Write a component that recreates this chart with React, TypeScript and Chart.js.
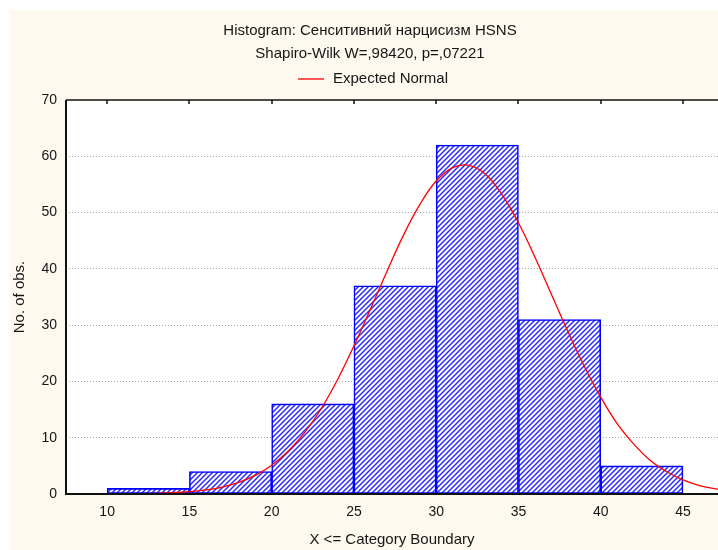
import React, { useEffect, useRef } from 'react';
import { Chart, registerables } from 'chart.js';

Chart.register(...registerables);

const TITLE = 'Histogram: Сенситивний нарцисизм HSNS';
const SUBTITLE = 'Shapiro-Wilk W=,98420, p=,07221';
const LEGEND_LABEL = 'Expected Normal';
const X_TITLE = 'X <= Category Boundary';
const Y_TITLE = 'No. of obs.';

const binStarts = [10, 15, 20, 25, 30, 35, 40];
const binWidth = 5;
const counts = [1, 4, 16, 37, 62, 31, 5];

const xTicks = [10, 15, 20, 25, 30, 35, 40, 45];
const yTicks = [0, 10, 20, 30, 40, 50, 60, 70];

const curveX = [8, 9, 10, 11, 12, 13, 14, 15, 16, 17, 18, 19, 20, 21, 22, 23, 24, 25, 26, 27, 28, 29, 30, 31, 32, 33, 34, 35, 36, 37, 38, 39, 40, 41, 42, 43, 44, 45, 46, 47, 48];
const curveY = [0.003, 0.006, 0.013, 0.03, 0.058, 0.12, 0.22, 0.41, 0.73, 1.24, 2.06, 3.3, 5.1, 7.6, 10.9, 15.1, 20.3, 26.3, 32.8, 39.5, 45.9, 51.4, 55.6, 58.0, 58.4, 56.8, 53.2, 48.2, 42.1, 35.5, 28.9, 22.7, 17.2, 12.5, 8.9, 6.0, 4.0, 2.5, 1.5, 0.9, 0.52];

const X_MIN = 7.5;
const X_MAX = 47.13;
const Y_MIN = 0;
const Y_MAX = 70;

const FONT = '"Liberation Sans", Arial, sans-serif';
const TEXT = '#161616';
const BLUE = '#0000ff';
const RED = '#ff0000';
const CREAM = '#fef9ee';

function makeHatch(ctx: CanvasRenderingContext2D): CanvasPattern | string {
  const s = 5;
  const c = document.createElement('canvas');
  c.width = s;
  c.height = s;
  const g = c.getContext('2d');
  if (!g) return '#8080ff';
  g.fillStyle = '#ffffff';
  g.fillRect(0, 0, s, s);
  g.strokeStyle = '#2a2aff';
  g.lineWidth = 1.5;
  g.beginPath();
  g.moveTo(0, s);
  g.lineTo(s, 0);
  g.moveTo(-1, 1);
  g.lineTo(1, -1);
  g.moveTo(s - 1, s + 1);
  g.lineTo(s + 1, s - 1);
  g.stroke();
  return ctx.createPattern(c, 'repeat') || '#8080ff';
}

const decorPlugin = {
  id: 'decor',
  beforeDraw(chart: any) {
    const { ctx, chartArea: a, width, height } = chart;
    ctx.save();
    ctx.fillStyle = '#ffffff';
    ctx.fillRect(0, 0, width, height);
    ctx.fillStyle = CREAM;
    ctx.fillRect(10, 10, width - 10, height - 10);
    ctx.fillStyle = '#ffffff';
    ctx.fillRect(a.left, a.top, a.right - a.left, a.bottom - a.top);

    const cx = 370;
    ctx.fillStyle = TEXT;
    ctx.font = `15px ${FONT}`;
    ctx.textAlign = 'center';
    ctx.textBaseline = 'alphabetic';
    ctx.fillText(TITLE, cx, 35);
    ctx.fillText(SUBTITLE, cx, 57.5);

    // legend
    ctx.textAlign = 'left';
    const tw = ctx.measureText(LEGEND_LABEL).width;
    const lineLen = 26;
    const gap = 9;
    const total = lineLen + gap + tw;
    const lx = cx + 3 - total / 2;
    ctx.strokeStyle = RED;
    ctx.lineWidth = 1.3;
    ctx.beginPath();
    ctx.moveTo(lx, 79);
    ctx.lineTo(lx + lineLen, 79);
    ctx.stroke();
    ctx.fillText(LEGEND_LABEL, lx + lineLen + gap, 83);
    ctx.restore();
  },
  afterDraw(chart: any) {
    const { ctx, chartArea: a, scales } = chart;
    ctx.save();
    ctx.strokeStyle = '#111111';
    ctx.lineWidth = 2;
    ctx.beginPath();
    ctx.moveTo(a.left, a.top);
    ctx.lineTo(a.left, a.bottom);
    ctx.lineTo(a.right, a.bottom);
    ctx.stroke();
    ctx.lineWidth = 1.5;
    ctx.beginPath();
    ctx.moveTo(a.left, a.top);
    ctx.lineTo(a.right, a.top);
    ctx.stroke();
    ctx.lineWidth = 1.5;
    ctx.beginPath();
    for (const v of xTicks) {
      const px = Math.round(scales.x.getPixelForValue(v));
      ctx.moveTo(px, a.top);
      ctx.lineTo(px, a.top + 4);
    }
    ctx.stroke();
    ctx.restore();
  },
};

export default function App() {
  const ref = useRef<HTMLCanvasElement | null>(null);

  useEffect(() => {
    const canvas = ref.current;
    if (!canvas) return;
    const ctx = canvas.getContext('2d');
    if (!ctx) return;
    const hatch = makeHatch(ctx);

    const barData = binStarts.map((s, i) => ({ x: s + binWidth / 2, y: counts[i] }));
    const lineData = curveX.map((x, i) => ({ x, y: curveY[i] }));

    const chart = new Chart(ctx, {
      type: 'bar',
      data: {
        datasets: [
          {
            type: 'line',
            label: LEGEND_LABEL,
            data: lineData,
            borderColor: RED,
            borderWidth: 1.3,
            pointRadius: 0,
            tension: 0.4,
            fill: false,
            order: 1,
          } as any,
          {
            type: 'bar',
            label: 'Observed',
            data: barData,
            backgroundColor: hatch as any,
            borderColor: BLUE,
            borderWidth: 1.6,
            borderSkipped: false,
            barPercentage: 1,
            categoryPercentage: 1,
            grouped: false,
            order: 2,
          } as any,
        ],
      },
      options: {
        responsive: false,
        animation: false,
        devicePixelRatio: 1,
        layout: { padding: { top: 100, left: 10, right: 0, bottom: 0 } },
        plugins: {
          legend: { display: false },
          title: { display: false },
          tooltip: { enabled: false },
        },
        scales: {
          x: {
            type: 'linear',
            min: X_MIN,
            max: X_MAX,
            offset: false,
            afterBuildTicks: (scale: any) => {
              scale.ticks = xTicks.map((v) => ({ value: v }));
            },
            afterFit: (scale: any) => {
              scale.height = 56;
            },
            grid: { display: false, drawTicks: false },
            border: { display: false },
            ticks: {
              padding: 10,
              color: TEXT,
              font: { family: FONT, size: 14 },
              maxRotation: 0,
              autoSkip: false,
            },
            title: {
              display: true,
              text: X_TITLE,
              color: TEXT,
              font: { family: FONT, size: 15 },
              padding: { top: 0, bottom: 1.3 },
            },
          },
          y: {
            type: 'linear',
            min: Y_MIN,
            max: Y_MAX,
            afterBuildTicks: (scale: any) => {
              scale.ticks = yTicks.map((v) => ({ value: v }));
            },
            afterFit: (scale: any) => {
              scale.width = 56;
            },
            grid: {
              drawTicks: false,
              lineWidth: 1,
              color: (c: any) =>
                c.tick && (c.tick.value === Y_MIN || c.tick.value === Y_MAX) ? 'rgba(0,0,0,0)' : '#a8a8a8',
            },
            border: { display: false, dash: [1, 2] },
            ticks: {
              padding: 9,
              color: TEXT,
              font: { family: FONT, size: 14 },
            },
            title: {
              display: true,
              text: Y_TITLE,
              color: TEXT,
              font: { family: FONT, size: 15 },
              padding: { top: 1.3, bottom: 0 },
            },
          },
        },
      },
      plugins: [decorPlugin],
    });

    return () => {
      chart.destroy();
    };
  }, []);

  return (
    <div style={{ position: 'absolute', left: 0, top: 0, width: 718, height: 550, overflow: 'hidden' }}>
      <canvas ref={ref} width={718} height={550} style={{ display: 'block', width: 718, height: 550 }} />
    </div>
  );
}
